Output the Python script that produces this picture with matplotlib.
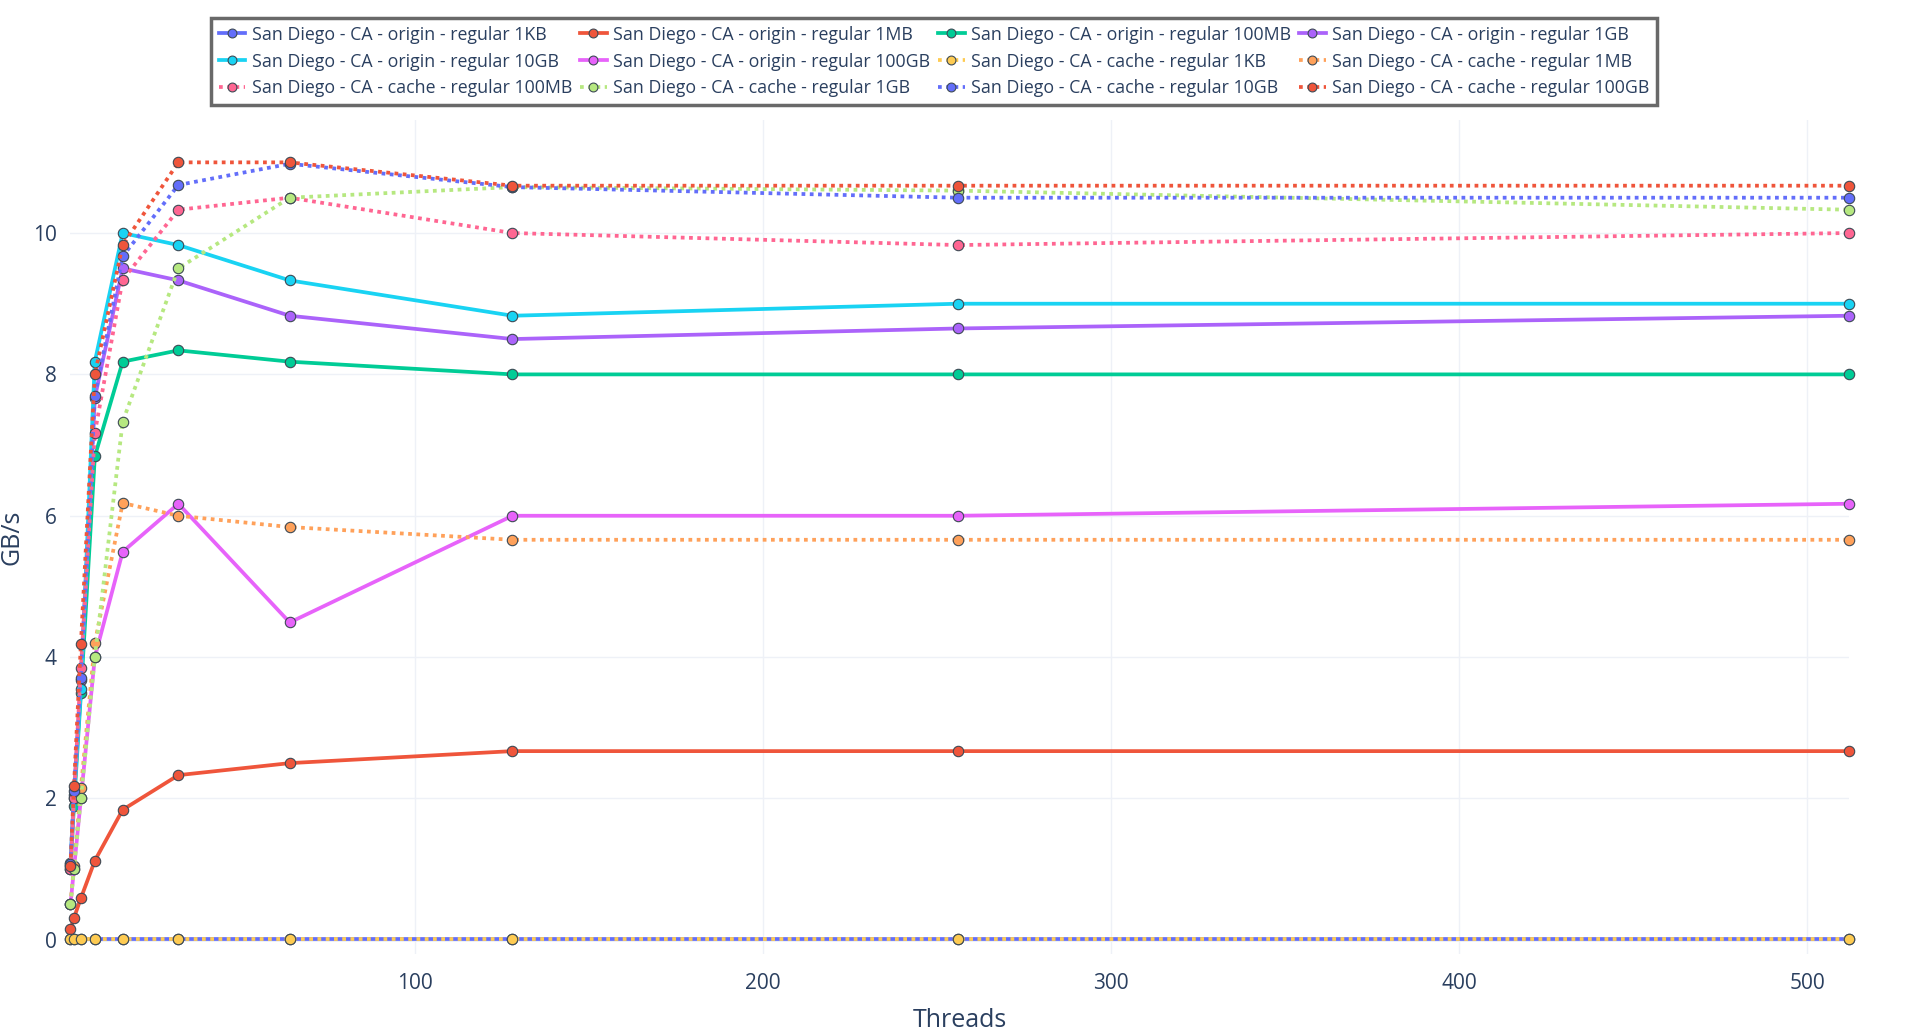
import matplotlib
matplotlib.use("Agg")
import matplotlib.pyplot as plt

# ── Data ─────────────────────────────────────────────────────────────────────

threads = [1, 2, 4, 8, 16, 32, 64, 128, 256, 512]

origin_1kb   = [0.01, 0.01, 0.01, 0.01, 0.01, 0.01, 0.01, 0.01, 0.01, 0.01]
origin_1mb   = [0.15, 0.31, 0.59, 1.12, 1.84, 2.33, 2.50, 2.67, 2.67, 2.67]
origin_100mb = [1.00, 1.90, 3.49, 6.84, 8.18, 8.34, 8.18, 8.00, 8.00, 8.00]
origin_1gb   = [1.05, 2.00, 3.68, 7.67, 9.50, 9.33, 8.83, 8.50, 8.65, 8.83]
origin_10gb  = [1.08, 2.05, 3.55, 8.18, 10.00, 9.83, 9.33, 8.83, 9.00, 9.00]
origin_100gb = [0.50, 1.00, 2.00, 4.00, 5.49, 6.17, 4.49, 6.00, 6.00, 6.17]
cache_1kb    = [0.01, 0.01, 0.01, 0.01, 0.01, 0.01, 0.01, 0.01, 0.01, 0.01]
cache_1mb    = [0.50, 1.05, 2.15, 4.20, 6.18, 6.00, 5.84, 5.66, 5.66, 5.66]
cache_100mb  = [1.00, 2.00, 3.85, 7.17, 9.34, 10.33, 10.50, 10.00, 9.83, 10.00]
cache_1gb    = [0.50, 1.00, 2.00, 4.00, 7.33, 9.50, 10.50, 10.65, 10.60, 10.33]
cache_10gb   = [1.07, 2.10, 3.70, 7.69, 9.67, 10.68, 10.98, 10.65, 10.50, 10.50]
cache_100gb  = [1.05, 2.17, 4.19, 8.00, 9.83, 11.00, 11.00, 10.67, 10.67, 10.67]

sizes = ["1KB", "1MB", "100MB", "1GB", "10GB", "100GB"]
origin_series = [origin_1kb, origin_1mb, origin_100mb, origin_1gb, origin_10gb, origin_100gb]
cache_series = [cache_1kb, cache_1mb, cache_100mb, cache_1gb, cache_10gb, cache_100gb]

origin_colors = ["#636EFA", "#EF553B", "#00CC96", "#AB63FA", "#19D3F3", "#E763FA"]
cache_colors = ["#FECB52", "#FFA15A", "#FF6692", "#B6E880", "#636EFA", "#EF553B"]

TEXT = "#2a3f5f"
GRID = "#EEF1F7"

plt.rcParams["font.family"] = ["Open Sans", "DejaVu Sans"]

fig = plt.figure(figsize=(19.15, 10.35), dpi=100)
ax = fig.add_axes([0.0368, 0.0783, 0.9287, 0.8058])

handles = []
for kind, series, colors, ls in [("origin", origin_series, origin_colors, "-"),
                                 ("cache", cache_series, cache_colors, (0, (1, 1.2)))]:
    for size, ys, c in zip(sizes, series, colors):
        h, = ax.plot(threads, ys, color=c, lw=2.7, ls=ls, marker="o", ms=7.5,
                     mfc=c, mec="#3d4a55", mew=0.8, clip_on=False,
                     label=f"San Diego - CA - {kind} - regular {size}")
        handles.append(h)

ax.set_xlim(1, 512)
ax.set_ylim(-0.2, 11.6)
ax.set_xticks([100, 200, 300, 400, 500])
ax.set_yticks([0, 2, 4, 6, 8, 10])
ax.grid(True, color=GRID, lw=1)
ax.axhline(0, color=GRID, lw=2, zorder=0)
ax.set_axisbelow(True)
for s in ax.spines.values():
    s.set_visible(False)
ax.tick_params(length=0, labelsize=15, colors=TEXT, pad=10)
ax.tick_params(axis="x", pad=14)
ax.set_xlabel("Threads", fontsize=18, color=TEXT, labelpad=10)
ax.set_ylabel("GB/s", fontsize=18, color=TEXT, labelpad=6)

# plotly fills the horizontal legend row by row
order = [0, 4, 8, 1, 5, 9, 2, 6, 10, 3, 7, 11]
leg = fig.legend([handles[i] for i in order], [handles[i].get_label() for i in order],
                 ncol=4, loc="upper center", bbox_to_anchor=(0.4877, 0.9915),
                 fontsize=12.8, frameon=True, fancybox=False, handlelength=1.5,
                 handletextpad=0.35, columnspacing=0.45, labelspacing=0.5,
                 borderpad=0.45, markerscale=0.85)
leg.get_frame().set_edgecolor("#444444")
leg.get_frame().set_linewidth(2.5)
for t in leg.get_texts():
    t.set_color(TEXT)

fig.savefig("out.png", dpi=100)
